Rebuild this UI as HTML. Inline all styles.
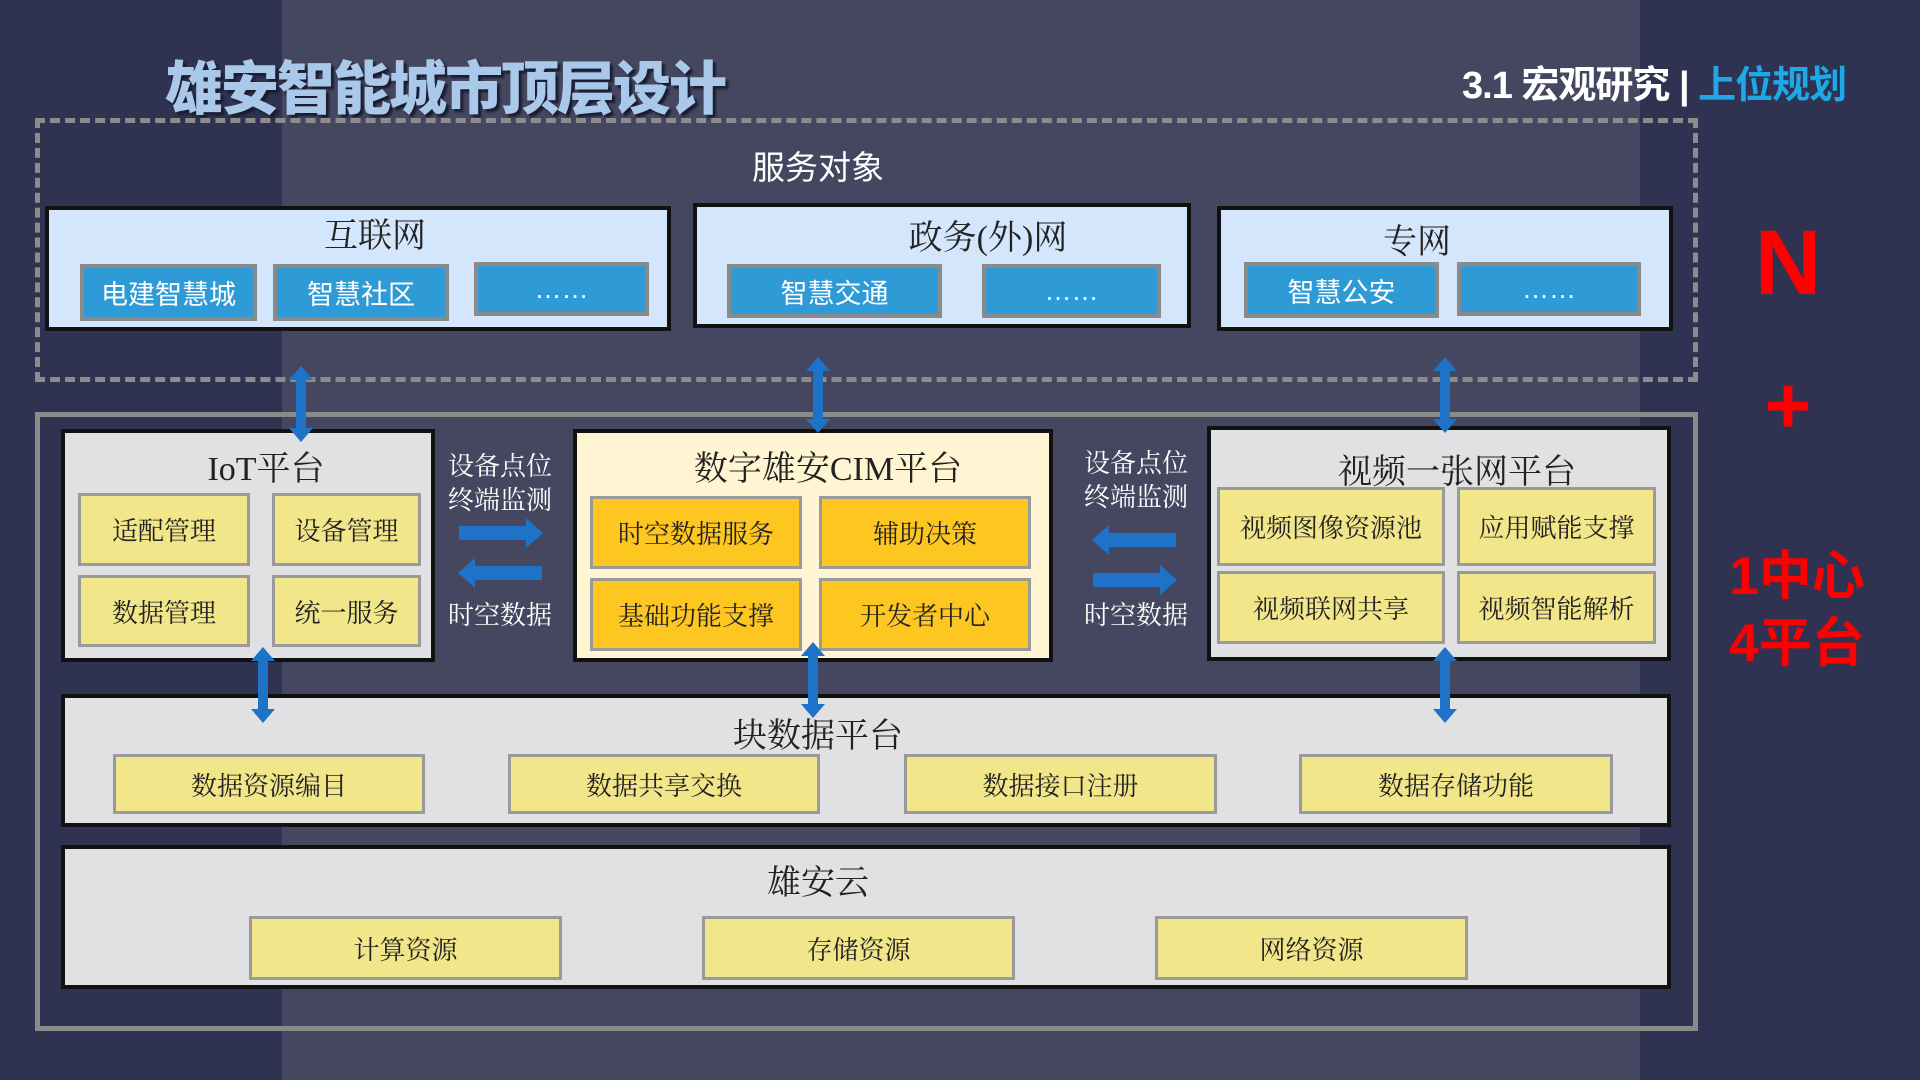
<!DOCTYPE html>
<html><head><meta charset="utf-8"><style>
*{margin:0;padding:0;box-sizing:border-box}
body{width:1920px;height:1080px;overflow:hidden;position:relative;background:#2f3250;font-family:"Liberation Serif","Noto Serif CJK SC",serif}
.a{position:absolute}
.c{position:absolute;display:flex;align-items:center;justify-content:center;white-space:nowrap}
.net{background:#d4e6fb;border:4px solid #111}
.blue{background:#2e9ad6;border:4px solid #8a8a8a;color:#fff;font-family:"Liberation Sans","Noto Sans CJK SC",sans-serif;font-size:27px}
.gray{background:#e1e1e3;border:4px solid #111}
.y{background:#f2e68a;border:3px solid #9a9a9a;font-size:26px;color:#222}
.g{background:#fec620;border:3px solid #9a9a9a;font-size:26px;color:#222}
.t{font-size:34px;color:#222}
.lab{font-size:26px;color:#fff;text-align:center;line-height:34px}
.red{color:#f00;font-family:"Liberation Sans","Noto Sans CJK SC",sans-serif;font-weight:bold}
</style></head><body>
<div class="a" style="left:282px;top:0;width:1358px;height:1080px;background:#44475f"></div>
<div class="a" style="left:165px;top:42px;font-family:'Liberation Sans','Noto Sans CJK SC',sans-serif;font-weight:900;font-size:58px;color:#a9c8ea;text-shadow:3px 3px 2px #1a1c30;letter-spacing:-2px">雄安智能城市顶层设计</div>
<div class="a" style="left:1462px;top:54px;font-family:'Liberation Sans','Noto Sans CJK SC',sans-serif;font-weight:bold;font-size:38px;color:#fff;letter-spacing:-1px">3.1 宏观研究 <span style="font-weight:900">|</span> <span style="color:#1ea8e8">上位规划</span></div>

<div class="a" style="left:35px;top:118px;width:1663px;height:264px;border:5px dashed #8c8c8c"></div>
<div class="c" style="left:718px;top:142px;width:200px;height:46px;color:#fff;font-size:33px;font-family:'Liberation Sans','Noto Sans CJK SC',sans-serif">服务对象</div>

<div class="a net" style="left:45px;top:206px;width:626px;height:125px"></div>
<div class="c t" style="left:45px;top:208px;width:660px;height:48px">互联网</div>
<div class="c blue" style="left:80px;top:264px;width:177px;height:57px">电建智慧城</div>
<div class="c blue" style="left:273px;top:264px;width:176px;height:57px">智慧社区</div>
<div class="c blue" style="left:474px;top:262px;width:175px;height:54px">……</div>

<div class="a net" style="left:693px;top:203px;width:498px;height:125px"></div>
<div class="c t" style="left:693px;top:210px;width:590px;height:48px">政务(外)网</div>
<div class="c blue" style="left:727px;top:264px;width:215px;height:54px">智慧交通</div>
<div class="c blue" style="left:982px;top:264px;width:179px;height:54px">……</div>

<div class="a net" style="left:1217px;top:206px;width:456px;height:125px"></div>
<div class="c t" style="left:1217px;top:214px;width:400px;height:48px">专网</div>
<div class="c blue" style="left:1244px;top:262px;width:195px;height:56px">智慧公安</div>
<div class="c blue" style="left:1457px;top:262px;width:184px;height:54px">……</div>

<div class="a" style="left:35px;top:412px;width:1663px;height:619px;border:5px solid #8a8a8a"></div>

<div class="a gray" style="left:61px;top:429px;width:374px;height:233px"></div>
<div class="c t" style="left:61px;top:442px;width:410px;height:46px">IoT平台</div>
<div class="c y" style="left:78px;top:493px;width:172px;height:73px">适配管理</div>
<div class="c y" style="left:272px;top:493px;width:149px;height:73px">设备管理</div>
<div class="c y" style="left:78px;top:575px;width:172px;height:72px">数据管理</div>
<div class="c y" style="left:272px;top:575px;width:149px;height:72px">统一服务</div>

<div class="a" style="left:573px;top:429px;width:480px;height:233px;background:#fff5d2;border:4px solid #111"></div>
<div class="c t" style="left:573px;top:442px;width:510px;height:46px">数字雄安CIM平台</div>
<div class="c g" style="left:590px;top:496px;width:212px;height:73px">时空数据服务</div>
<div class="c g" style="left:819px;top:496px;width:212px;height:73px">辅助决策</div>
<div class="c g" style="left:590px;top:578px;width:212px;height:73px">基础功能支撑</div>
<div class="c g" style="left:819px;top:578px;width:212px;height:73px">开发者中心</div>

<div class="a gray" style="left:1207px;top:426px;width:464px;height:235px"></div>
<div class="c t" style="left:1257px;top:445px;width:400px;height:46px">视频一张网平台</div>
<div class="c y" style="left:1217px;top:487px;width:228px;height:79px">视频图像资源池</div>
<div class="c y" style="left:1457px;top:487px;width:199px;height:79px">应用赋能支撑</div>
<div class="c y" style="left:1217px;top:571px;width:228px;height:73px">视频联网共享</div>
<div class="c y" style="left:1457px;top:571px;width:199px;height:73px">视频智能解析</div>

<div class="a gray" style="left:61px;top:694px;width:1610px;height:133px"></div>
<div class="c t" style="left:618px;top:709px;width:400px;height:46px">块数据平台</div>
<div class="c y" style="left:113px;top:754px;width:312px;height:60px">数据资源编目</div>
<div class="c y" style="left:508px;top:754px;width:312px;height:60px">数据共享交换</div>
<div class="c y" style="left:904px;top:754px;width:313px;height:60px">数据接口注册</div>
<div class="c y" style="left:1299px;top:754px;width:314px;height:60px">数据存储功能</div>

<div class="a gray" style="left:61px;top:845px;width:1610px;height:144px"></div>
<div class="c t" style="left:618px;top:856px;width:400px;height:46px">雄安云</div>
<div class="c y" style="left:249px;top:916px;width:313px;height:64px">计算资源</div>
<div class="c y" style="left:702px;top:916px;width:313px;height:64px">存储资源</div>
<div class="c y" style="left:1155px;top:916px;width:313px;height:64px">网络资源</div>

<div class="a lab" style="left:440px;top:450px;width:120px">设备点位<br>终端监测</div>
<div class="a lab" style="left:440px;top:599px;width:120px">时空数据</div>
<div class="a lab" style="left:1076px;top:447px;width:120px">设备点位<br>终端监测</div>
<div class="a lab" style="left:1076px;top:599px;width:120px">时空数据</div>

<svg class="a" style="left:0;top:0" width="1920" height="1080">
<defs>
<g id="v"><polygon points="0,-38 12,-24 5,-24 5,24 12,24 0,38 -12,24 -5,24 -5,-24 -12,-24" fill="#1e73c8"/></g>
</defs>
<use href="#v" x="301" y="404"/>
<use href="#v" x="818" y="395"/>
<use href="#v" x="1445" y="395"/>
<use href="#v" x="263" y="685"/>
<use href="#v" x="813" y="680"/>
<use href="#v" x="1445" y="685"/>
<polygon points="459,526 526,526 526,518 543,533 526,548 526,540 459,540" fill="#1e73c8"/>
<polygon points="542,566 475,566 475,558 458,573 475,588 475,580 542,580" fill="#1e73c8"/>
<polygon points="1176,533 1109,533 1109,525 1092,540 1109,555 1109,547 1176,547" fill="#1e73c8"/>
<polygon points="1093,573 1160,573 1160,565 1177,580 1160,595 1160,587 1093,587" fill="#1e73c8"/>
</svg>

<div class="c red" style="left:1728px;top:210px;width:120px;height:106px;font-size:92px">N</div>
<div class="c red" style="left:1738px;top:364px;width:100px;height:84px;font-size:80px">+</div>
<div class="c red" style="left:1712px;top:540px;width:170px;height:64px;font-size:53px">1中心</div>
<div class="c red" style="left:1712px;top:607px;width:170px;height:64px;font-size:53px">4平台</div>
</body></html>
